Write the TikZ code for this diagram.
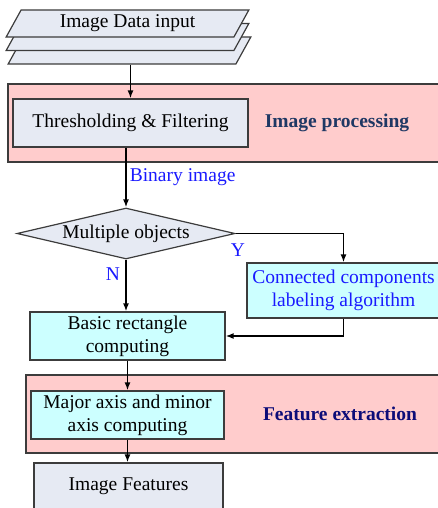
\documentclass[tikz,border=0pt]{standalone}
\usepackage{fontspec}
\setmainfont{Liberation Serif}
\usetikzlibrary{arrows.meta,calc,positioning,shapes.geometric,shadows}
\definecolor{fgpink}{RGB}{255,204,204}
\definecolor{fgcyan}{RGB}{204,255,255}
\definecolor{fglav}{RGB}{230,234,243}
\definecolor{fgedge}{RGB}{60,60,60}
\definecolor{fgnavy}{RGB}{31,56,100}
\definecolor{fgdeep}{RGB}{12,12,120}
\definecolor{fgblue}{RGB}{25,25,255}

\begin{document}
\begin{tikzpicture}[x=1pt,y=-1pt,>={Latex[length=8pt,width=6pt]},font=\fontsize{19.5}{23}\selectfont,
    every node/.style={align=center,inner sep=0pt},
    box/.style={draw=fgedge,line width=1.2pt,rectangle},
    group/.style={box,fill=fgpink},
    arr/.style={->,line width=1.6pt}]
    \useasboundingbox (0,0) rectangle (437,508);
    % shaded stages
    \node[group,minimum width=437pt,minimum height=78pt] (procgrp) at (226.5,123) {};
    \node[group,minimum width=419pt,minimum height=78pt] (featgrp) at (235.5,414) {};
    \node[font=\fontsize{19.5}{23}\selectfont\bfseries,text=fgnavy] (proclbl) at (337,123) {Image processing};
    \node[font=\fontsize{19.5}{23}\selectfont\bfseries,text=fgdeep] (featlbl) at (340,414) {Feature extraction};
    % steps
    \node[box,fill=fglav,trapezium,trapezium left angle=61,trapezium right angle=119,trapezium stretches=true,
      minimum width=243pt,minimum height=27pt,
      copy shadow={shadow xshift=2pt,shadow yshift=-27pt,fill=fglav,draw=fgedge,line width=1.2pt},
      copy shadow={shadow xshift=0pt,shadow yshift=-13.5pt,fill=fglav,draw=fgedge,line width=1.2pt}] (input) at (127.5,23.5) {Image Data input};
    \node[box,fill=fglav,minimum width=235pt,minimum height=48pt] (thresh) at (130.5,123) {Thresholding \& Filtering};
    \node[box,fill=fglav,diamond,aspect=4.27,minimum width=218pt,minimum height=51pt] (multi) at (126,233.5) {Multiple objects};
    \node[box,fill=fgcyan,text=fgblue,minimum width=193pt,minimum height=55pt] (conn) at (343.5,290.5) {Connected components\\labeling algorithm};
    \node[box,fill=fgcyan,minimum width=195pt,minimum height=48pt] (basic) at (127.5,336) {Basic rectangle\\computing};
    \node[box,fill=fgcyan,minimum width=193pt,minimum height=48pt] (axis) at (127.5,415) {Major axis and minor\\axis computing};
    \node[box,fill=fglav,minimum width=189pt,minimum height=46pt] (feats) at (128.5,486) {Image Features};
    % flow
    \draw[arr] ($(thresh.north |- input.south)+(0,27)$) -- (thresh.north);
    \draw[arr] (multi.north |- thresh.south) -- node[right=3pt,pos=0.5,text=fgblue]{Binary image} (multi.north);
    \draw[arr] (multi.east) -| (conn.north);
    \node[text=fgblue] (ylbl) at (238,250) {Y};
    \draw[arr] (multi.south) -- (multi.south |- basic.north);
    \node[text=fgblue] (nlbl) at (113,274) {N};
    \draw[arr] (conn.south) |- (basic.east);
    \draw[arr] (basic.south) -- (axis.north);
    \draw[arr] (axis.south) -- (axis.south |- feats.north);
\end{tikzpicture}
\end{document}
